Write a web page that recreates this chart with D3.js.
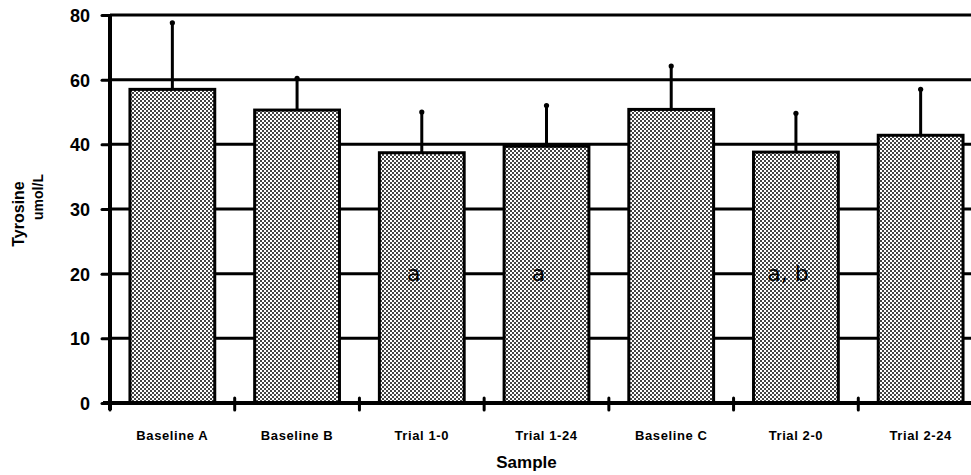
<!DOCTYPE html>
<html>
<head>
<meta charset="utf-8">
<script src="https://cdn.jsdelivr.net/npm/d3@7"></script>
<style>
	body { margin: 0; background: #fff; }
	svg { display: block; }
	.axis text { font-family: 'Liberation Sans', Arial, sans-serif; font-weight: bold; fill: #000; }
	.axisTitle { font-family: 'Liberation Sans', Arial, sans-serif; font-weight: bold; fill: #000; }
	.note { font-family: 'DejaVu Sans', sans-serif; fill: #000; }
</style>
</head>
<body>
<svg id="chart"></svg>
<script>
// data
const samples = ['Baseline A', 'Baseline B', 'Trial 1-0', 'Trial 1-24', 'Baseline C', 'Trial 2-0', 'Trial 2-24'];
const means = [48.5, 45.3, 38.7, 39.7, 45.4, 38.8, 41.4];
const errTops = [58.8, 50.2, 45.0, 46.0, 52.1, 44.8, 48.5];
// tick positions and the labels as they are printed on the original axis
const yTicks = [0, 10, 20, 30, 40, 50, 60];
const yTickLabels = ['0', '10', '20', '30', '40', '60', '80'];
// hand-written significance marks
const noteSamples = ['Trial 1-0', 'Trial 1-24', 'Trial 2-0'];
const noteTexts = ['a', 'a', 'a, b'];

const data = samples.map((s, i) => ({sample: s, mean: means[i], top: errTops[i]}));

const W = 971, H = 475;
const margin = {top: 15, bottom: 73, left: 110, right: 0};
const plotRight = 983; // the chart runs past the right edge of the scan

const $svg = d3.select('#chart').attr('width', W).attr('height', H);

// halftone fill for the bars
const pat = $svg.append('defs').append('pattern')
	.attr('id', 'dots')
	.attr('patternUnits', 'userSpaceOnUse')
	.attr('width', 4).attr('height', 4);
pat.append('rect').attr('width', 4).attr('height', 4).attr('fill', '#fff');
pat.append('rect').attr('width', 2).attr('height', 2).attr('fill', '#444');
pat.append('rect').attr('x', 2).attr('y', 2).attr('width', 2).attr('height', 2).attr('fill', '#444');

// scales
const scaleX = d3.scaleBand()
	.domain(samples)
	.range([margin.left, plotRight])
	.paddingInner(0.32)
	.paddingOuter(0.16);

const scaleY = d3.scaleLinear()
	.domain([0, 60])
	.range([H - margin.bottom + 1, margin.top]);

// gridlines
$svg.append('g')
	.selectAll('line')
	.data(yTicks.slice(1))
	.enter()
	.append('line')
	.attr('x1', margin.left)
	.attr('x2', W)
	.attr('y1', d => scaleY(d))
	.attr('y2', d => scaleY(d))
	.attr('stroke', '#000')
	.attr('stroke-width', 3);

// error bars (upper only, with a round cap)
const $err = $svg.append('g').selectAll('g').data(data).enter().append('g');
$err.append('line')
	.attr('x1', d => scaleX(d.sample) + scaleX.bandwidth() / 2)
	.attr('x2', d => scaleX(d.sample) + scaleX.bandwidth() / 2)
	.attr('y1', d => scaleY(d.mean))
	.attr('y2', d => scaleY(d.top))
	.attr('stroke', '#000')
	.attr('stroke-width', 3);
$err.append('circle')
	.attr('cx', d => scaleX(d.sample) + scaleX.bandwidth() / 2)
	.attr('cy', d => scaleY(d.top))
	.attr('r', 2.6)
	.attr('fill', '#000');

// bars
$svg.append('g')
	.selectAll('rect')
	.data(data)
	.enter()
	.append('rect')
	.attr('x', d => scaleX(d.sample))
	.attr('y', d => scaleY(d.mean))
	.attr('width', scaleX.bandwidth())
	.attr('height', d => scaleY(0) - scaleY(d.mean))
	.attr('fill', 'url(#dots)')
	.attr('stroke', '#000')
	.attr('stroke-width', 3);

// y axis
const $yAxis = $svg.append('g')
	.attr('class', 'axis axis--y')
	.attr('transform', 'translate(' + margin.left + ',0)')
	.call(d3.axisLeft(scaleY)
		.tickValues(yTicks)
		.tickFormat((d, i) => yTickLabels[i])
		.tickSize(8)
		.tickSizeOuter(0)
		.tickPadding(12));
$yAxis.select('.domain').attr('stroke-width', 4).attr('d', 'M0,' + (scaleY(60) - 1) + 'V' + (scaleY(0) + 7));
$yAxis.selectAll('.tick line').attr('stroke-width', 3).attr('stroke-linecap', 'round');
$yAxis.selectAll('.tick text').style('font-size', '18px').attr('dy', '0.36em');

// x axis: labels centred under bars, ticks at the band boundaries
const $xAxis = $svg.append('g')
	.attr('class', 'axis axis--x')
	.attr('transform', 'translate(0,' + scaleY(0) + ')')
	.call(d3.axisBottom(scaleX).tickSize(0).tickSizeOuter(0).tickPadding(28));
$xAxis.select('.domain').attr('stroke-width', 4).attr('d', 'M' + (margin.left - 7) + ',0H' + W);
$xAxis.selectAll('.tick text').style('font-size', '13px').style('letter-spacing', '0.6px');

const boundaries = d3.range(samples.length + 1).map(i => margin.left + i * scaleX.step());
$xAxis.selectAll('.bound')
	.data(boundaries)
	.enter()
	.append('line')
	.attr('class', 'bound')
	.attr('x1', d => d).attr('x2', d => d)
	.attr('y1', -5).attr('y2', 7)
	.attr('stroke', '#000')
	.attr('stroke-width', 3)
	.attr('stroke-linecap', 'round');

// axis titles
$svg.append('text')
	.attr('class', 'axisTitle')
	.attr('x', (margin.left + W) / 2 - 14)
	.attr('y', 468)
	.attr('text-anchor', 'middle')
	.style('font-size', '17px')
	.text('Sample');

$svg.append('text')
	.attr('class', 'axisTitle')
	.attr('transform', 'translate(24,214) rotate(-90)')
	.attr('text-anchor', 'middle')
	.style('font-size', '16px')
	.text('Tyrosine');

$svg.append('text')
	.attr('class', 'axisTitle')
	.attr('transform', 'translate(43,197) rotate(-90)')
	.attr('text-anchor', 'middle')
	.style('font-size', '14px')
	.text('umol/L');

// significance notes inside the bars
$svg.append('g')
	.selectAll('text')
	.data(noteSamples)
	.enter()
	.append('text')
	.attr('class', 'note')
	.attr('x', d => scaleX(d) + scaleX.bandwidth() / 2 - 8)
	.attr('y', scaleY(20) + 7)
	.attr('text-anchor', 'middle')
	.style('font-size', '22px')
	.text((d, i) => noteTexts[i]);
</script>
</body>
</html>
